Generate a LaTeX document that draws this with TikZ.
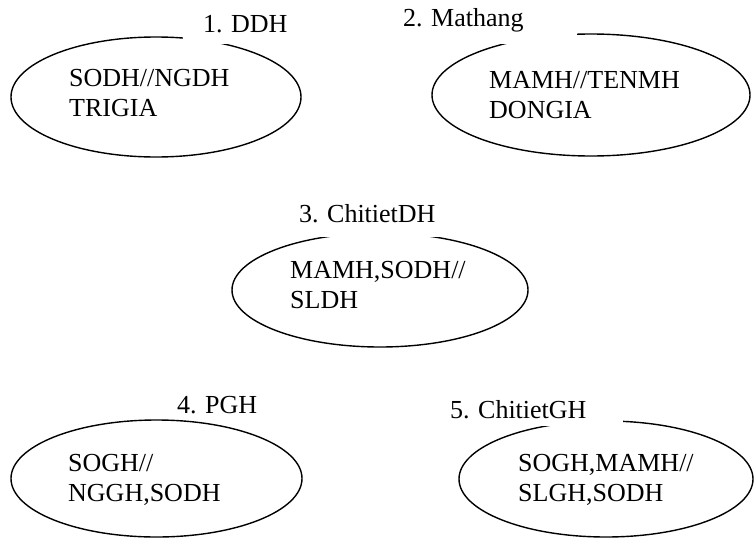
\documentclass[tikz,border=0pt]{standalone}
\usepackage{fontspec}
\setmainfont{Liberation Serif}
\usetikzlibrary{shapes.geometric}

\tikzset{
  entity/.style={draw, ellipse, line width=1.4pt, inner sep=0pt},
  attrs/.style={anchor=north west, inner sep=0pt, align=left,
                font=\fontsize{26}{30}\selectfont},
  tag/.style={anchor=text, fill=white, font=\fontsize{26}{30}\selectfont}
}

\begin{document}
\begin{tikzpicture}[x=1pt, y=-1pt]
  \useasboundingbox (0,0) rectangle (754,538);

  % entity ellipses
  \node[entity, minimum width=290pt, minimum height=120pt] (e1) at (156,97) {};
  \node[entity, minimum width=318pt, minimum height=122pt] (e2) at (591,95) {};
  \node[entity, minimum width=296pt, minimum height=114pt] (e3) at (380,290) {};
  \node[entity, minimum width=291pt, minimum height=117pt] (e4) at (156.5,478.5) {};
  \node[entity, minimum width=294pt, minimum height=116pt] (e5) at (606,479) {};

  % attribute lists inside the ellipses
  \node[attrs] (a1) at (69,69)  {SODH//NGDH\\TRIGIA};
  \node[attrs] (a2) at (489,71) {MAMH//TENMH\\DONGIA};
  \node[attrs] (a3) at (290,261) {MAMH,SODH//\\SLDH};
  \node[attrs] (a4) at (68,454) {SOGH//\\NGGH,SODH};
  \node[attrs] (a5) at (518,454) {SOGH,MAMH//\\SLGH,SODH};

  % table titles on white boxes over the ellipse outlines
  \node[tag, inner xsep=20pt, inner ysep=12pt] (t1) at (203,32)  {1. DDH};
  \node[tag, inner xsep=53pt, inner ysep=11pt] (t2) at (403,27)  {2. Mathang};
  \node[tag, inner xsep=12pt, inner ysep=15pt] (t3) at (299,222) {3. ChitietDH};
  \node[tag, inner xsep=4pt,  inner ysep=4pt]  (t4) at (177,413) {4. PGH};
  \node[tag, inner xsep=36pt, inner ysep=8pt]  (t5) at (450,418) {5. ChitietGH};
\end{tikzpicture}
\end{document}
